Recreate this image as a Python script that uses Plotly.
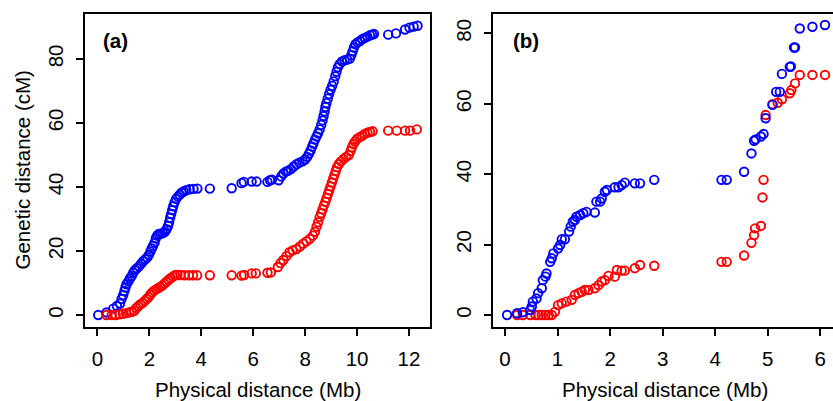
import plotly.graph_objects as go

# Panel (a): physical position (Mb) and genetic position (cM) of markers
a_blue_x = [0.03, 0.35, 0.61, 0.75, 0.87, 0.93, 0.99, 1.04, 1.08, 1.12, 1.19, 1.25, 1.32, 1.38, 1.44,
            1.52, 1.60, 1.68, 1.76, 1.84, 1.92, 1.98, 2.04, 2.09, 2.14, 2.20, 2.25, 2.30, 2.36, 2.44,
            2.52, 2.60, 2.66, 2.72, 2.76, 2.80, 2.84, 2.88, 2.92, 2.97, 3.03, 3.10, 3.17, 3.24, 3.32,
            3.42, 3.55, 3.70, 3.85, 4.33, 5.17, 5.55, 5.64, 5.94, 6.13, 6.55, 6.65, 6.72, 6.98, 7.08,
            7.16, 7.26, 7.35, 7.45, 7.56, 7.67, 7.78, 7.90, 8.00, 8.08, 8.15, 8.21, 8.27, 8.32, 8.38,
            8.44, 8.50, 8.56, 8.62, 8.67, 8.71, 8.75, 8.78, 8.82, 8.87, 8.92, 8.98, 9.04, 9.10, 9.16,
            9.21, 9.26, 9.33, 9.42, 9.52, 9.62, 9.72, 9.78, 9.83, 9.88, 9.94, 10.02, 10.11, 10.20, 10.30,
            10.40, 10.50, 10.58, 10.65, 11.20, 11.50, 11.85, 12.02, 12.18, 12.33]
a_blue_y = [0.0, 0.8, 2.0, 2.8, 3.6, 5.0, 6.2, 7.5, 8.6, 9.6, 10.5, 11.4, 12.2, 13.2, 14.0,
            14.6, 15.2, 16.0, 16.8, 17.4, 18.0, 18.8, 19.8, 20.8, 21.6, 22.6, 24.0, 24.8, 25.3, 25.4,
            25.6, 26.0, 26.8, 27.8, 29.0, 30.4, 31.6, 32.8, 34.0, 35.2, 36.3, 37.0, 37.6, 38.2, 38.6,
            39.0, 39.3, 39.4, 39.5, 39.5, 39.6, 41.2, 41.6, 41.7, 41.7, 41.6, 42.1, 42.3, 42.1, 43.3,
            44.2, 44.8, 45.1, 45.6, 46.4, 47.1, 47.6, 48.0, 48.6, 49.4, 50.4, 51.4, 52.6, 53.6, 54.8,
            55.8, 56.8, 58.0, 59.4, 60.8, 62.2, 63.6, 65.0, 66.2, 67.6, 69.0, 70.4, 71.6, 73.0, 74.6,
            76.0, 77.4, 78.4, 79.2, 79.6, 79.8, 80.1, 81.2, 82.4, 83.6, 84.6, 85.2, 85.6, 86.2, 86.6,
            87.0, 87.4, 87.6, 87.8, 87.6, 88.0, 89.2, 89.8, 90.1, 90.4]

a_red_x = [0.35, 0.55, 0.70, 0.85, 0.98, 1.10, 1.22, 1.32, 1.42, 1.50, 1.58, 1.66, 1.74, 1.82, 1.90,
           1.97, 2.04, 2.10, 2.18, 2.26, 2.34, 2.42, 2.50, 2.58, 2.66, 2.74, 2.82, 2.90, 2.98, 3.08,
           3.20, 3.35, 3.52, 3.68, 3.84, 4.33, 5.17, 5.55, 5.65, 5.94, 6.10, 6.55, 6.68, 6.95, 7.05,
           7.16, 7.28, 7.40, 7.52, 7.66, 7.80, 7.93, 8.05, 8.18, 8.30, 8.38, 8.44, 8.50, 8.56, 8.62,
           8.67, 8.72, 8.78, 8.83, 8.88, 8.93, 8.98, 9.03, 9.08, 9.13, 9.18, 9.23, 9.30, 9.38, 9.48,
           9.58, 9.68, 9.75, 9.80, 9.86, 9.92, 10.00, 10.10, 10.20, 10.30, 10.40, 10.50, 10.60, 11.20, 11.53,
           11.85, 12.04, 12.30]
a_red_y = [0.0, 0.0, 0.0, 0.2, 0.4, 0.6, 0.8, 1.0, 1.3, 2.2, 2.8, 3.4, 3.8, 4.4, 5.0,
           5.6, 6.4, 7.0, 7.6, 8.0, 8.4, 8.8, 9.2, 9.8, 10.4, 11.0, 11.5, 12.0, 12.4, 12.5,
           12.5, 12.4, 12.4, 12.4, 12.4, 12.4, 12.4, 12.3, 12.5, 13.0, 13.0, 13.2, 13.3, 15.0, 16.2,
           17.2, 18.4, 19.6, 20.2, 20.6, 21.4, 22.3, 23.0, 23.8, 24.8, 26.0, 27.6, 29.0, 30.6, 31.8,
           33.0, 34.2, 35.4, 36.6, 37.8, 39.0, 40.2, 41.4, 42.6, 43.8, 45.0, 46.2, 47.2, 48.0, 48.8,
           49.4, 50.0, 51.2, 52.4, 53.4, 54.2, 55.0, 55.6, 56.0, 56.6, 57.0, 57.2, 57.4, 57.6, 57.6,
           57.6, 57.6, 58.0]

# Panel (b)
b_blue_x = [0.04, 0.23, 0.34, 0.48, 0.51, 0.53, 0.60, 0.63, 0.70, 0.72, 0.77, 0.79, 0.86, 0.89, 0.92,
            1.01, 1.05, 1.08, 1.14, 1.22, 1.25, 1.29, 1.33, 1.36, 1.43, 1.49, 1.55, 1.71, 1.74, 1.81,
            1.84, 1.90, 1.94, 2.09, 2.16, 2.22, 2.28, 2.47, 2.57, 2.84, 4.12, 4.22, 4.55, 4.69, 4.74,
            4.77, 4.87, 4.92, 4.96, 5.09, 5.16, 5.23, 5.27, 5.42, 5.44, 5.50, 5.52, 5.61, 5.85, 6.09]
b_blue_y = [0.0, 0.5, 0.8, 1.4, 2.4, 3.8, 4.7, 6.2, 7.6, 9.9, 10.9, 11.8, 15.1, 16.1, 17.5,
            18.9, 19.9, 21.5, 21.5, 23.7, 25.1, 26.5, 27.0, 27.9, 28.4, 28.9, 29.3, 29.1, 32.2, 32.2,
            33.1, 35.0, 35.5, 36.3, 36.3, 36.9, 37.6, 37.4, 37.4, 38.4, 38.4, 38.4, 40.7, 45.9, 49.5,
            49.9, 50.7, 51.4, 55.9, 59.7, 63.4, 63.4, 68.5, 70.5, 70.6, 76.0, 76.0, 81.4, 81.9, 82.4]

b_red_x = [0.23, 0.34, 0.48, 0.58, 0.64, 0.70, 0.77, 0.83, 0.89, 0.95, 1.01, 1.08, 1.17, 1.27, 1.33,
           1.40, 1.46, 1.52, 1.59, 1.71, 1.78, 1.84, 1.90, 1.97, 2.09, 2.13, 2.22, 2.28, 2.47, 2.57,
           2.84, 4.12, 4.22, 4.55, 4.69, 4.74, 4.76, 4.87, 4.90, 4.92, 4.96, 5.09, 5.19, 5.27, 5.42,
           5.45, 5.52, 5.61, 5.85, 6.09]
b_red_y = [0.0, 0.0, 0.0, 0.0, 0.0, 0.0, 0.0, 0.0, 0.0, 0.9, 2.8, 3.3, 3.8, 4.3, 5.7,
           6.2, 6.6, 7.1, 7.1, 7.6, 8.5, 9.5, 9.9, 11.1, 10.9, 12.8, 12.6, 12.6, 13.3, 14.2,
           14.0, 15.1, 15.1, 16.9, 20.5, 22.7, 24.6, 25.3, 33.4, 38.4, 56.8, 59.9, 60.3, 61.3, 63.0,
           63.9, 65.8, 68.2, 68.2, 68.2]

BLUE = "#0000FF"
RED = "#FF0000"
FONT = "Liberation Sans, Arial, sans-serif"
FS = 20.5
W, H = 833, 401


def pts(x, y, color, xa, ya):
    return go.Scatter(
        x=x, y=y, mode="markers", xaxis=xa, yaxis=ya, showlegend=False,
        marker=dict(symbol="circle-open", size=8.5, color=color, line=dict(width=1.9, color=color)),
        hoverinfo="skip",
    )


fig = go.Figure()
fig.add_trace(pts(a_blue_x, a_blue_y, BLUE, "x", "y"))
fig.add_trace(pts(a_red_x, a_red_y, RED, "x", "y"))
fig.add_trace(pts(b_red_x, b_red_y, RED, "x2", "y2"))
fig.add_trace(pts(b_blue_x, b_blue_y, BLUE, "x2", "y2"))

ydom = [1 - 327 / H, 1 - 14 / H]
tickfont = dict(family=FONT, size=FS, color="black")
common_x = dict(showgrid=False, zeroline=False, showline=True, linecolor="black", linewidth=2,
                ticks="outside", ticklen=7, tickwidth=1.5, tickcolor="black",
                tickfont=tickfont, ticklabelstandoff=5)
common_y = dict(showgrid=False, zeroline=False, showline=True, linecolor="black", linewidth=2,
                ticks="outside", ticklen=7, tickwidth=1.5, tickcolor="black", tickangle=-90,
                tickfont=tickfont, ticklabelstandoff=5)

fig.update_layout(
    width=W, height=H, margin=dict(l=0, r=0, t=0, b=0),
    paper_bgcolor="white", plot_bgcolor="white",
    xaxis=dict(domain=[85 / W, 430 / W], range=[-0.48, 12.81], tickvals=[0, 2, 4, 6, 8, 10, 12],
               mirror=True, anchor="y", **common_x),
    yaxis=dict(domain=ydom, range=[-3.75, 94.06], tickvals=[0, 20, 40, 60, 80],
               mirror=True, anchor="x", **common_y),
    xaxis2=dict(domain=[492.7 / W, 1.0], range=[-0.234, 6.242], tickvals=[0, 1, 2, 3, 4, 5, 6],
                mirror=True, anchor="y2", **common_x),
    yaxis2=dict(domain=ydom, range=[-3.41, 85.51], tickvals=[0, 20, 40, 60, 80],
                anchor="x2", **common_y),
)

ann = []
# axis titles
ann.append(dict(text="Genetic distance (cM)", x=22 / W, y=1 - 170.5 / H, textangle=-90, font=tickfont))
ann.append(dict(text="Physical distance (Mb)", x=257.5 / W, y=1 - 389 / H, font=tickfont))
ann.append(dict(text="Physical distance (Mb)", x=665 / W, y=1 - 389 / H, font=tickfont))
# panel tags
ann.append(dict(text="<b>(a)</b>", x=115.5 / W, y=1 - 41 / H, font=tickfont))
ann.append(dict(text="<b>(b)</b>", x=525.5 / W, y=1 - 41 / H, font=tickfont))
for a in ann:
    a.update(xref="paper", yref="paper", showarrow=False, xanchor="center", yanchor="middle")
fig.update_layout(annotations=ann)

fig.write_html("out.html")
